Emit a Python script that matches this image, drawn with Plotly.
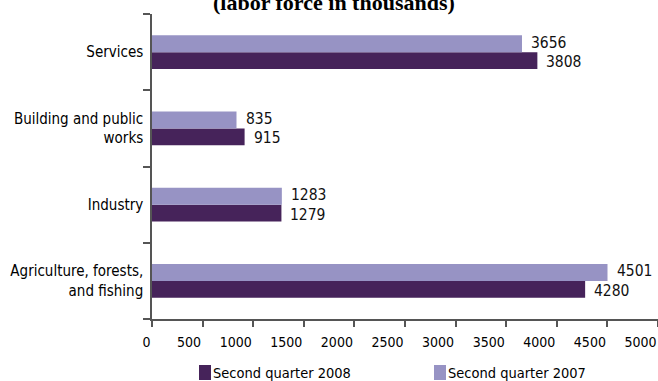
import plotly.graph_objects as go

# Labor force by sector, in thousands (listed bottom to top)
sectors = [
    "Agriculture, forests,<br>and fishing",
    "Industry",
    "Building and public<br>works",
    "Services",
]
q2_2008 = [4280, 1279, 915, 3808]
q2_2007 = [4501, 1283, 835, 3656]

series_names = ["Second quarter 2008", "Second quarter 2007"]
colors = ["#46235A", "#9793C4"]
x_ticks = list(range(0, 5001, 500))

FONT = "DejaVu Sans Condensed, Liberation Sans Narrow, Arial Narrow, sans-serif"

# plot-area geometry in pixels
W, H = 658, 381
L, R, T, B = 152, 0, 14, 62
PW, PH = W - L - R, H - T - B


def px_x(px):
    return (px - L) / PW


def px_y(py):
    return (H - B - py) / PH


fig = go.Figure()
for name, vals, col in zip(series_names, [q2_2008, q2_2007], colors):
    fig.add_trace(go.Bar(
        y=sectors, x=vals, name=name, orientation="h",
        marker=dict(color=col, line=dict(width=0)),
        hoverinfo="x+name",
    ))

# value labels beside each bar end
bar_shift = {0: -10, 1: 9.5}
for i, vals in enumerate([q2_2008, q2_2007]):
    for s, v in zip(sectors, vals):
        fig.add_annotation(
            x=v, y=s, text=str(v), showarrow=False,
            xanchor="left", yanchor="middle", xshift=7, yshift=bar_shift[i],
            font=dict(family=FONT, size=15.5, color="#111"),
        )

# title line, largely above the top edge
fig.add_annotation(
    text="<b>(labor force in thousands)</b>", xref="paper", yref="paper",
    x=px_x(334), y=px_y(2), xanchor="center", yanchor="middle", showarrow=False,
    font=dict(family="Liberation Serif, Times New Roman, serif", size=22, color="#000"),
)

# legend: colour swatch followed by the series name
legend_pos = [(199, 211), (434, 446)]
for (x0, x1), name, col in zip(legend_pos, series_names, colors):
    fig.add_shape(
        type="rect", xref="paper", yref="paper",
        x0=px_x(x0), x1=px_x(x1), y0=px_y(380), y1=px_y(365),
        fillcolor=col, line=dict(width=0),
    )
    fig.add_annotation(
        text=name, xref="paper", yref="paper",
        x=px_x(x1), y=px_y(373), xanchor="left", yanchor="middle",
        showarrow=False, xshift=0,
        font=dict(family=FONT, size=14.5, color="#000"),
    )

fig.update_layout(
    width=W, height=H,
    margin=dict(l=L, r=R, t=T, b=B, autoexpand=False),
    paper_bgcolor="white", plot_bgcolor="white",
    barmode="group", bargap=0.56, bargroupgap=0,
    font=dict(family=FONT, size=15, color="#000"),
    showlegend=False,
)
fig.update_xaxes(
    range=[0, 5000], tickvals=x_ticks, ticktext=[str(t) for t in x_ticks],
    ticklabelposition="outside left", ticklabelstandoff=9,
    showgrid=False, zeroline=False,
    showline=True, linecolor="#555", linewidth=1.5,
    ticks="outside", ticklen=6, tickcolor="#555", tickwidth=1.5,
    tickfont=dict(family=FONT, size=14),
)
fig.update_yaxes(
    type="category", categoryorder="array", categoryarray=sectors,
    range=[-0.5, 3.5], tickson="boundaries", ticklabelstandoff=4,
    showgrid=False, zeroline=False,
    showline=True, linecolor="#555", linewidth=1.5,
    ticks="outside", ticklen=7, tickcolor="#555", tickwidth=1.5,
    tickfont=dict(family=FONT, size=15),
)

fig.write_html("out.html")
